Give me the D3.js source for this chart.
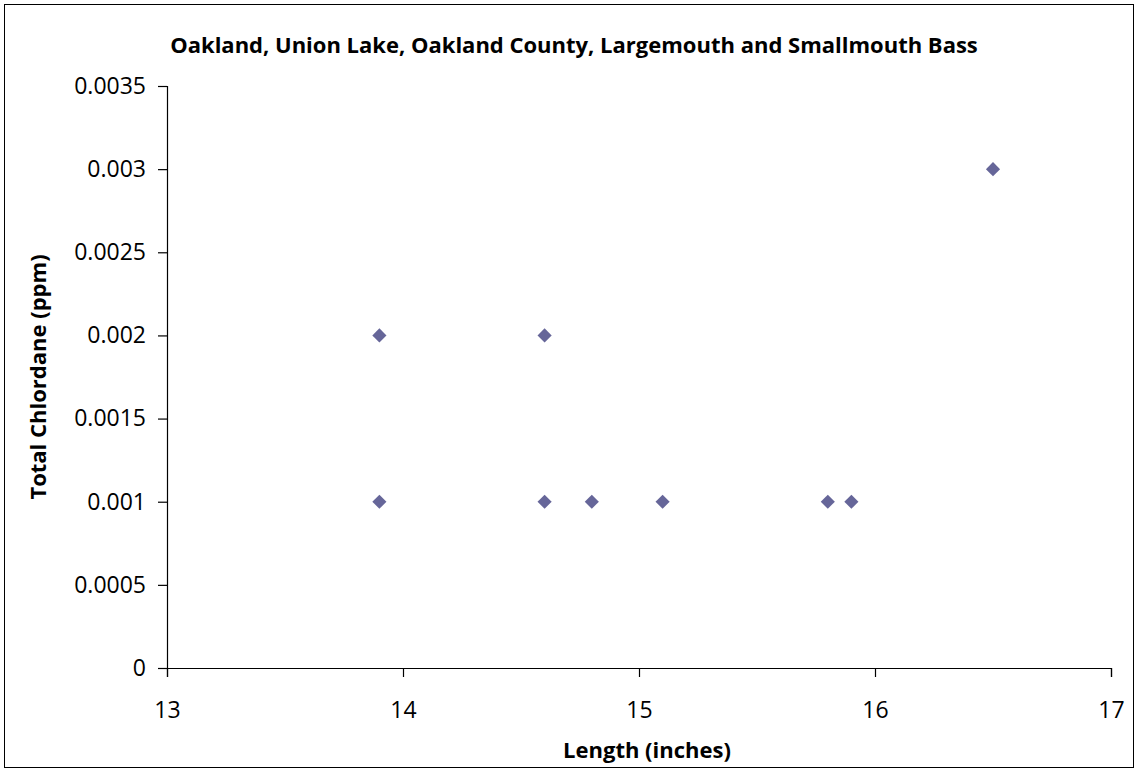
<!DOCTYPE html>
<html><head><meta charset="utf-8">
<script src="https://cdn.jsdelivr.net/npm/d3@7"></script>
<style>body{margin:0;background:#fff}svg{display:block}</style>
</head><body>
<svg id="c" width="1139" height="772"></svg>
<script>
const lengths = [13.9, 13.9, 14.6, 14.6, 14.8, 15.1, 15.8, 15.9, 16.5];
const chlordane = [0.002, 0.001, 0.002, 0.001, 0.001, 0.001, 0.001, 0.001, 0.003];
const xTicks = [13, 14, 15, 16, 17];
const yTicks = [0, 0.0005, 0.001, 0.0015, 0.002, 0.0025, 0.003, 0.0035];
const title = "Oakland, Union Lake, Oakland County, Largemouth and Smallmouth Bass";
const xTitle = "Length (inches)";
const yTitle = "Total Chlordane (ppm)";

const svg = d3.select("#c");
const font = "'Open Sans', 'Liberation Sans', sans-serif";
svg.append("rect").attr("x",4.5).attr("y",4.5).attr("width",1129).attr("height",763)
  .attr("fill","#fff").attr("stroke","#000").attr("stroke-width",1);

const x = d3.scaleLinear().domain([13,17]).range([167,1111]);
const y = d3.scaleLinear().domain([0,0.0035]).range([668,86]);

const xa = svg.append("g").attr("transform","translate(0,668)")
  .call(d3.axisBottom(x).tickValues(xTicks).tickSize(9).tickPadding(25).tickFormat(d3.format("d")));
const ya = svg.append("g").attr("transform","translate(167,0)")
  .call(d3.axisLeft(y).tickValues(yTicks).tickSize(9).tickPadding(12).tickFormat(d => d === 0 ? "0" : String(+d.toFixed(4))));
[xa, ya].forEach(a => {
  a.select(".domain").attr("stroke","#000").attr("stroke-width",1.2);
  a.selectAll(".tick line").attr("stroke","#000").attr("stroke-width",1.2);
  a.selectAll("text").attr("font-family",font).attr("font-size",23).attr("fill","#000");
});

svg.append("g").selectAll("path").data(lengths).join("path")
  .attr("d", d3.symbol(d3.symbolSquare).size(100)())
  .attr("transform", (d,i) => `translate(${x(d)},${y(chlordane[i])}) rotate(45)`)
  .attr("fill","#666699");

svg.append("text").attr("x",574).attr("y",53).attr("text-anchor","middle")
  .attr("font-family",font).attr("font-weight","bold").attr("font-size",22).text(title);
svg.append("text").attr("x",647).attr("y",758).attr("text-anchor","middle")
  .attr("font-family",font).attr("font-weight","bold").attr("font-size",22).text(xTitle);
svg.append("text").attr("transform","translate(46,377) rotate(-90)").attr("text-anchor","middle")
  .attr("font-family",font).attr("font-weight","bold").attr("font-size",22).text(yTitle);
</script>
</body></html>
